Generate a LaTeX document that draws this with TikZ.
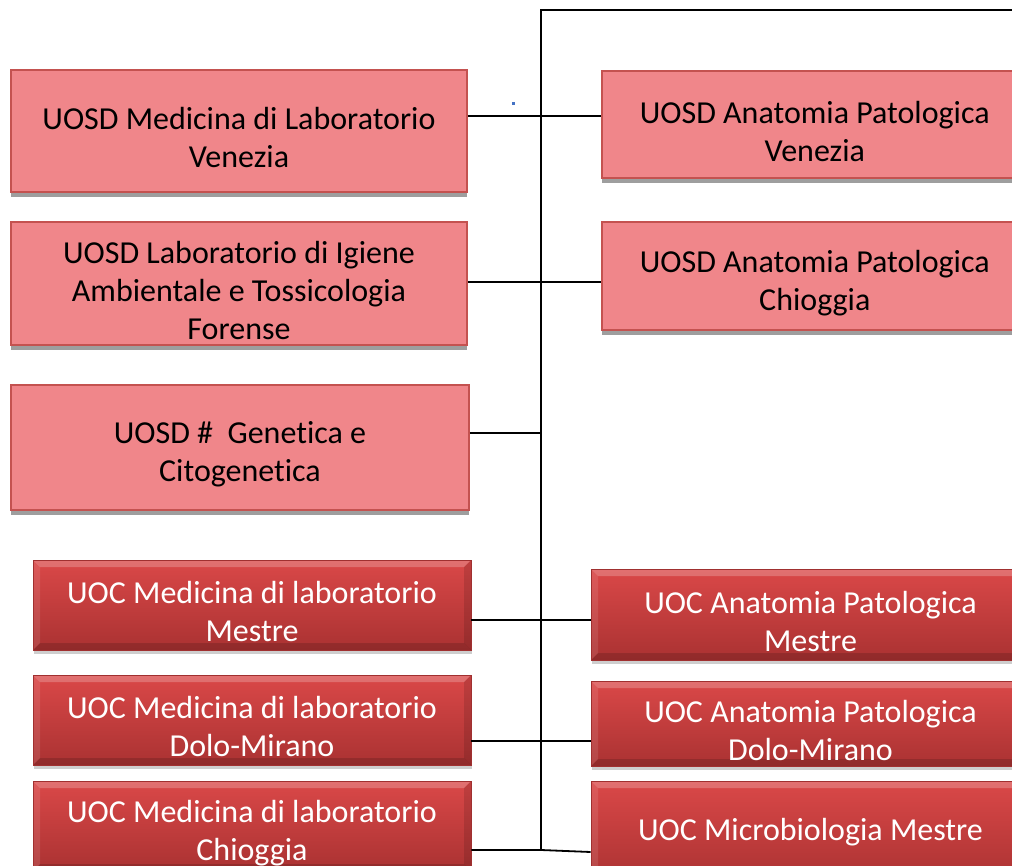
\documentclass[tikz,border=0pt]{standalone}
\usepackage{fontspec}
\setmainfont{Carlito}[Ligatures=NoCommon]
\usetikzlibrary{shadows}
\definecolor{pinkfill}{RGB}{240,134,138}
\definecolor{pinkedge}{RGB}{196,82,80}
\definecolor{redtop}{RGB}{218,72,72}
\definecolor{redbot}{RGB}{170,50,50}
\definecolor{rededge}{RGB}{160,48,48}
\definecolor{dotblue}{RGB}{68,114,196}
\newcommand{\lowr}{\rule{0pt}{36pt}}
\begin{document}
\begin{tikzpicture}[x=1pt,y=-1pt,
  boxfont/.style={font=\fontsize{32}{38}\selectfont},
  pinkbox/.style={boxfont, draw=pinkedge, line width=1.6pt, fill=pinkfill,
    text=black, align=center, inner sep=0pt,
    drop shadow={shadow xshift=0pt, shadow yshift=-5pt, fill=black!38, opacity=1}},
  redbox/.style={boxfont, draw=rededge, line width=0.8pt,
    top color=redtop, bottom color=redbot, text=white, align=center, inner sep=0pt,
    drop shadow={shadow xshift=1pt, shadow yshift=-4pt, fill=black!35, opacity=.55},
    path picture={
      \fill[white,opacity=.22] (path picture bounding box.north west) -- (path picture bounding box.north east)
        -- ([xshift=-7pt,yshift=-7pt]path picture bounding box.north east) -- ([xshift=7pt,yshift=-7pt]path picture bounding box.north west) -- cycle;
      \fill[white,opacity=.10] (path picture bounding box.north west) -- ([xshift=7pt,yshift=-7pt]path picture bounding box.north west)
        -- ([xshift=7pt,yshift=7pt]path picture bounding box.south west) -- (path picture bounding box.south west) -- cycle;
      \fill[black,opacity=.15] (path picture bounding box.south west) -- (path picture bounding box.south east)
        -- ([xshift=-7pt,yshift=7pt]path picture bounding box.south east) -- ([xshift=7pt,yshift=7pt]path picture bounding box.south west) -- cycle;
      \fill[black,opacity=.12] (path picture bounding box.north east) -- ([xshift=-7pt,yshift=-7pt]path picture bounding box.north east)
        -- ([xshift=-7pt,yshift=7pt]path picture bounding box.south east) -- (path picture bounding box.south east) -- cycle;
    }},
  link/.style={draw=black, line width=1.8pt}]
\useasboundingbox (0,0) rectangle (1012,866);
\clip (0,0) rectangle (1012,866);

% light-red UOSD boxes
\node[pinkbox, minimum width=456pt, minimum height=122pt] (b1) at (239,131)
  {\lowr UOSD Medicina di Laboratorio\\Venezia};
\node[pinkbox, minimum width=456pt, minimum height=123pt] (b2) at (239,283.5)
  {\lowr UOSD Laboratorio di Igiene\\Ambientale e Tossicologia\\Forense};
\node[pinkbox, minimum width=458pt, minimum height=125pt] (b3) at (240,447.5)
  {\lowr UOSD \#\ \ Genetica e\\Citogenetica};
\node[pinkbox, minimum width=440pt, minimum height=107pt, anchor=west] (b4) at (601,124.5)
  {\lowr\hspace*{-14pt}UOSD Anatomia Patologica\\\hspace*{-14pt}Venezia};
\node[pinkbox, minimum width=440pt, minimum height=108pt, anchor=west] (b5) at (601,276)
  {\lowr\hspace*{-14pt}UOSD Anatomia Patologica\\\hspace*{-14pt}Chioggia};

% dark-red UOC boxes
\node[redbox, minimum width=438pt, minimum height=90pt] (b6) at (252,605)
  {\lowr UOC Medicina di laboratorio\\Mestre};
\node[redbox, minimum width=438pt, minimum height=90pt] (b7) at (252,720)
  {\lowr UOC Medicina di laboratorio\\Dolo-Mirano};
\node[redbox, minimum width=438pt, minimum height=90pt] (b8) at (252,826)
  {\lowr UOC Medicina di laboratorio\\Chioggia};
\node[redbox, minimum width=439pt, minimum height=91pt] (b9) at (810.5,614.5)
  {\lowr UOC Anatomia Patologica\\Mestre};
\node[redbox, minimum width=439pt, minimum height=85pt] (b10) at (810.5,723.5)
  {\lowr UOC Anatomia Patologica\\Dolo-Mirano};
\node[redbox, minimum width=439pt, minimum height=102pt] (b11) at (810.5,832)
  {UOC Microbiologia Mestre};

% spine and junctions
\coordinate (top) at (541,10);
\coordinate (topend) at (1012,10);
\coordinate (j1) at (541,116);
\coordinate (j2) at (541,282);
\coordinate (j3) at (541,433);
\coordinate (j4) at (541,620);
\coordinate (j5) at (541,741);
\coordinate (j6) at (541,850);

\draw[link] (j6) -- (top) -- (topend);
\draw[link] (b1.east |- j1) -- (b4.west |- j1);
\draw[link] (b2.east |- j2) -- (b5.west |- j2);
\draw[link] (b3.east |- j3) -- (j3);
\draw[link] (b6.east |- j4) -- (b9.west |- j4);
\draw[link] (b7.east |- j5) -- (b10.west |- j5);
\draw[link] (b8.east |- j6) -- (j6) -- ([yshift=-2pt]b11.west |- j6);

% stray dot
\fill[dotblue] (511.5,102.5) rectangle (514.5,105.5);
\end{tikzpicture}
\end{document}
